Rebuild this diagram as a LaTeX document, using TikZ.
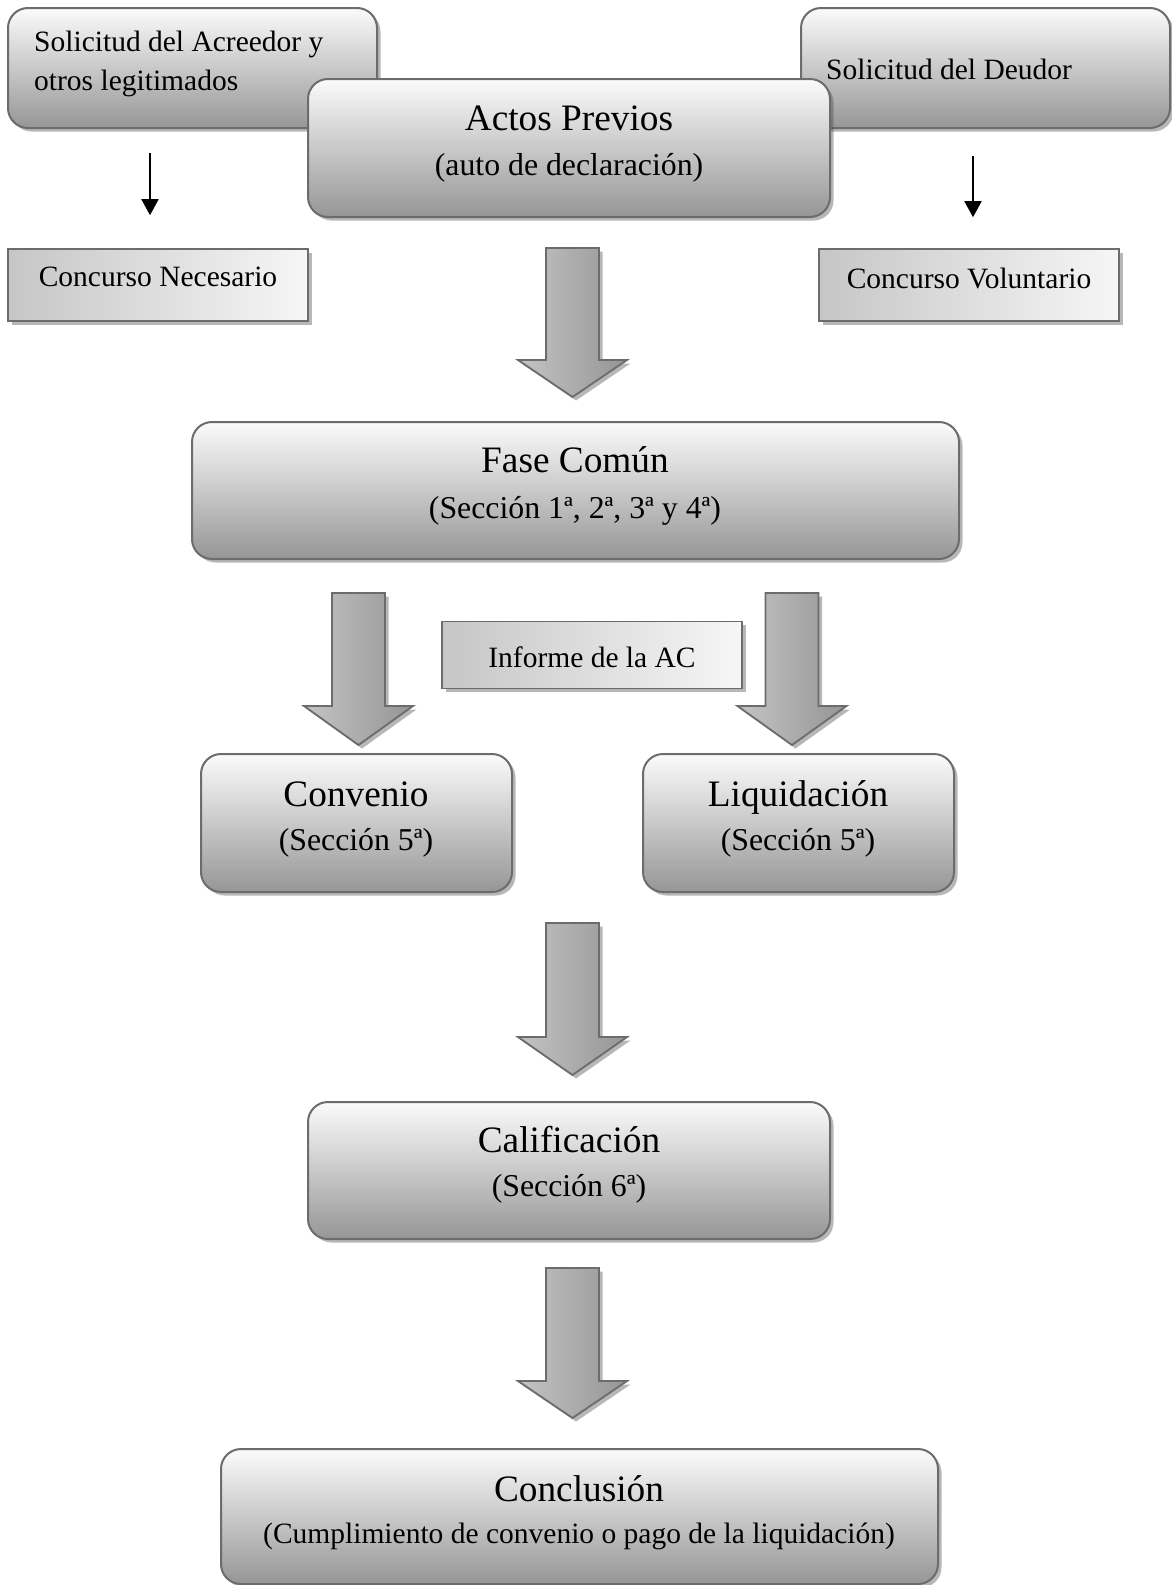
\documentclass[tikz,border=0pt]{standalone}
\usepackage{fontspec}
\setmainfont{Liberation Serif}
\usetikzlibrary{shadows,arrows.meta}
\definecolor{edge}{HTML}{6C6C6C}
\definecolor{boxtop}{HTML}{FBFBFB}
\definecolor{boxbot}{HTML}{969696}
\definecolor{sqleft}{HTML}{C6C6C6}
\definecolor{sqright}{HTML}{F6F6F6}
\definecolor{arrL}{HTML}{C4C4C4}
\definecolor{arrM}{HTML}{DCDCDC}
\definecolor{arrR}{HTML}{959595}
\newcommand{\tfont}{\fontsize{37.3}{42}\selectfont}
\newcommand{\sfont}{\fontsize{31.8}{39}\selectfont}
\newcommand{\smfont}{\fontsize{29.5}{39}\selectfont}
\tikzset{
  myshadow/.style={drop shadow={shadow xshift=3.5pt, shadow yshift=-3.5pt, opacity=0.4, fill=black!70}},
  rbox/.style={draw=edge, line width=2pt, rounded corners=20pt, top color=boxtop, bottom color=boxbot, myshadow, inner sep=0pt},
  sqbox/.style={draw=edge, line width=1.6pt, left color=sqleft, right color=sqright, myshadow, inner sep=0pt},
  ttl/.style={font=\tfont, inner sep=0pt, text height=0.7em, text depth=0.22em},
  sub/.style={font=\sfont, inner sep=0pt, text height=0.7em, text depth=0.22em},
  small/.style={font=\smfont, inner sep=0pt},
  thinarrow/.style={line width=1.8pt, -{Triangle[length=16pt,width=17pt]}},
  barrowstyle/.style={draw=edge, line width=1.8pt, left color=arrL, middle color=arrM, right color=arrR, myshadow},
  pics/barrow/.style 2 args={code={
    \path[barrowstyle] (-26.5,0) -- (26.5,0) -- (26.5,#1) -- (54.5,#1) -- (0,{#1+#2}) -- (-54.5,#1) -- (-26.5,#1) -- cycle;
  }}
}
\begin{document}
\begin{tikzpicture}[x=1pt,y=-1pt]
\useasboundingbox[fill=white] (0,0) rectangle (1171,1585);

% top request boxes
\node[rbox, minimum width=369pt, minimum height=120pt] (acreedor) at (192.5,68) {};
\node[small, anchor=west, align=left] (acreedort) at (34,64) {Solicitud del Acreedor y\\otros legitimados};
\node[rbox, minimum width=369pt, minimum height=120pt] (deudor) at (985.5,68) {};
\node[small, anchor=west] (deudort) at (826,69) {Solicitud del Deudor};

% Actos previos
\node[rbox, minimum width=522pt, minimum height=138pt] (actos) at (569,148) {};
\node[ttl] (actost) at (569,128) {Actos Previos};
\node[sub] (actoss) at (569,173.5) {(auto de declaración)};

% concurso boxes
\node[sqbox, minimum width=300pt, minimum height=72pt] (conc1) at (158,285) {};
\node[small] (conc1t) at (158,277) {Concurso Necesario};
\node[sqbox, minimum width=300pt, minimum height=72pt] (conc2) at (969,285) {};
\node[small] (conc2t) at (969,278) {Concurso Voluntario};

\coordinate (xl) at (150,0);
\coordinate (xr) at (973,0);
\draw[thinarrow, shorten <=24pt, shorten >=33pt] (acreedor.south -| xl) -- (conc1.north -| xl);
\draw[thinarrow, shorten <=27pt, shorten >=31pt] (deudor.south -| xr) -- (conc2.north -| xr);

% block arrow 1
\pic (ba1) at (572.5,248) {barrow={112}{37}};

% Fase comun
\node[rbox, minimum width=767pt, minimum height=137pt] (fase) at (575.5,490.5) {};
\node[ttl] (faset) at (575,470) {Fase Común};
\node[sub] (fases) at (575,516.5) {(Sección 1ª, 2ª, 3ª y 4ª)};

% arrows to convenio / liquidacion
\pic (ba2) at (358.5,593) {barrow={113}{39}};
\pic (ba3) at (792,593) {barrow={113}{39}};

\node[sqbox, minimum width=300pt, minimum height=67pt] (informe) at (592,655) {};
\node[small] (informet) at (592,657) {Informe de la AC};

% convenio & liquidacion
\node[rbox, minimum width=311pt, minimum height=138pt] (convenio) at (356.5,823) {};
\node[ttl] (conveniot) at (356,804) {Convenio};
\node[sub] (convenios) at (356,848) {(Sección 5ª)};
\node[rbox, minimum width=311pt, minimum height=138pt] (liquid) at (798.5,823) {};
\node[ttl] (liquidt) at (798,804) {Liquidación};
\node[sub] (liquids) at (798,848) {(Sección 5ª)};

% arrow 4
\pic (ba4) at (572.5,923) {barrow={114}{38}};

% calificacion
\node[rbox, minimum width=522pt, minimum height=137pt] (calif) at (569,1170.5) {};
\node[ttl] (calift) at (569,1150) {Calificación};
\node[sub] (califs) at (569,1194.5) {(Sección 6ª)};

% arrow 5
\pic (ba5) at (572.5,1268) {barrow={113}{37}};

% conclusion
\node[rbox, minimum width=717pt, minimum height=135pt] (concl) at (579.5,1516.5) {};
\node[ttl] (conclt) at (579,1499) {Conclusión};
\node[small, text height=0.7em, text depth=0.22em] (concls) at (579,1541.5) {(Cumplimiento de convenio o pago de la liquidación)};
\end{tikzpicture}
\end{document}
